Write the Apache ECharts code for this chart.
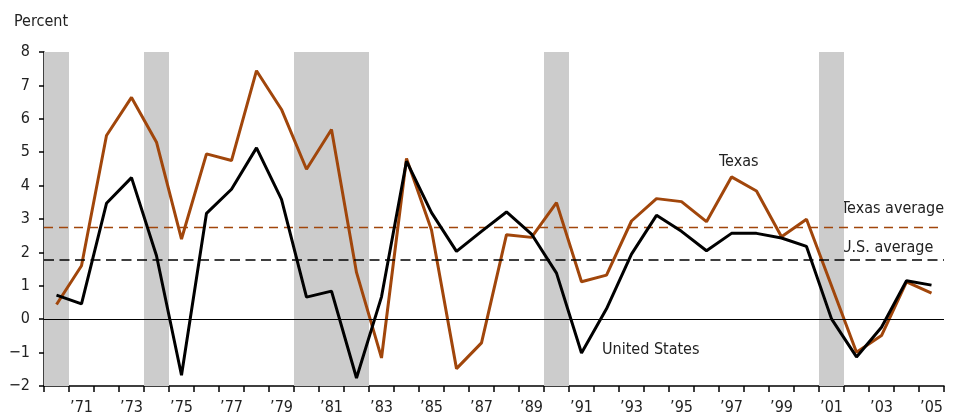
<!DOCTYPE html>
<html>
<head>
<meta charset="utf-8">
<script src="https://cdn.jsdelivr.net/npm/echarts@6/dist/echarts.min.js"></script>
<style>
  html, body { margin: 0; padding: 0; background: #fff; }
  #chart { width: 956px; height: 416px; }
</style>
</head>
<body>
<div id="chart"></div>
<script>
// years on the x axis
const years = [];
for (let y = 1970; y <= 2005; y++) years.push(String(y));

// annual job growth, percent
const texas = [0.44, 1.6, 5.5, 6.64, 5.3, 2.4, 4.95, 4.75, 7.44, 6.28,
  4.49, 5.68, 1.4, -1.16, 4.81, 2.67, -1.48, -0.71, 2.53, 2.45,
  3.49, 1.12, 1.32, 2.94, 3.61, 3.52, 2.92, 4.26, 3.84, 2.47,
  2.99, 1.0, -0.99, -0.49, 1.12, 0.78];
const us = [0.72, 0.46, 3.47, 4.24, 1.9, -1.68, 3.17, 3.89, 5.13, 3.59,
  0.66, 0.84, -1.76, 0.67, 4.73, 3.19, 2.03, 2.63, 3.21, 2.55,
  1.38, -1.01, 0.31, 1.95, 3.11, 2.63, 2.05, 2.57, 2.57, 2.43,
  2.18, 0.01, -1.13, -0.24, 1.15, 1.02];

const texasAvg = 2.75;
const usAvg = 1.77;

// recession years (shaded)
const recessions = ['1970', '1974', '1980', '1981', '1982', '1990', '2001'];

const FONT = "'Liberation Sans Narrow', 'DejaVu Sans Condensed', sans-serif";
const BROWN = '#a1460b';
const TXT = '#222';

const chart = echarts.init(document.getElementById('chart'));

const option = {
  animation: false,
  textStyle: { fontFamily: FONT },
  grid: { left: 44, right: 12, top: 52, bottom: 29, containLabel: false },
  xAxis: {
    type: 'category',
    data: years,
    boundaryGap: true,
    axisLine: { onZero: false, lineStyle: { color: '#000', width: 1.5 } },
    axisTick: { show: true, interval: 0, length: 6, lineStyle: { color: '#000', width: 1.5 } },
    axisLabel: {
      interval: (i) => i % 2 === 1,
      formatter: (v) => '\u2019' + v.slice(2),
      color: TXT,
      fontSize: 16,
      fontFamily: FONT,
      margin: 14
    },
    splitLine: { show: false }
  },
  yAxis: [
    {
      type: 'value',
      min: -2,
      max: 8,
      interval: 1,
      axisLine: { show: true, lineStyle: { color: '#000', width: 1.5 } },
      axisTick: { show: true, length: 5, lineStyle: { color: '#000', width: 1.5 } },
      axisLabel: {
        color: TXT,
        fontSize: 16,
        fontFamily: FONT,
        margin: 14,
        formatter: (v) => (v < 0 ? '\u2212' + Math.abs(v) : String(v))
      },
      splitLine: { show: false }
    },
    { type: 'value', min: 0, max: 1, show: false }
  ],
  graphic: [
    { type: 'text', x: 14, y: 22, style: { text: 'Percent', font: '16px ' + FONT, fill: TXT, verticalAlign: 'middle' } },
    { type: 'text', x: 719, y: 162, style: { text: 'Texas', font: '16px ' + FONT, fill: TXT, verticalAlign: 'middle' } },
    { type: 'text', x: 841, y: 209, style: { text: 'Texas average', font: '16px ' + FONT, fill: TXT, verticalAlign: 'middle' } },
    { type: 'text', x: 841, y: 248, style: { text: 'U.S. average', font: '16px ' + FONT, fill: TXT, verticalAlign: 'middle' } },
    { type: 'text', x: 602, y: 350, style: { text: 'United States', font: '16px ' + FONT, fill: TXT, verticalAlign: 'middle' } }
  ],
  series: [
    {
      name: 'Recession',
      type: 'bar',
      yAxisIndex: 1,
      barCategoryGap: '0%',
      barGap: '0%',
      silent: true,
      itemStyle: { color: '#cccccc' },
      data: years.map((y) => (recessions.includes(y) ? 1 : '-')),
      z: 1
    },
    {
      name: 'Texas',
      type: 'line',
      data: texas,
      symbol: 'none',
      lineStyle: { color: BROWN, width: 3 },
      z: 4,
      markLine: {
        silent: true,
        symbol: 'none',
        label: { show: false },
        data: [
          { yAxis: texasAvg, lineStyle: { color: BROWN, type: [9, 6], width: 1.3, opacity: 1 } }
        ]
      }
    },
    {
      name: 'United States',
      type: 'line',
      data: us,
      symbol: 'none',
      lineStyle: { color: '#000', width: 3 },
      z: 5,
      markLine: {
        silent: true,
        symbol: 'none',
        label: { show: false },
        data: [
          { yAxis: usAvg, lineStyle: { color: '#000', type: [10, 5.5], width: 1.5 } },
          { yAxis: 0, lineStyle: { color: '#000', type: 'solid', width: 1.2 } }
        ]
      }
    }
  ]
};

chart.setOption(option);
</script>
</body>
</html>
